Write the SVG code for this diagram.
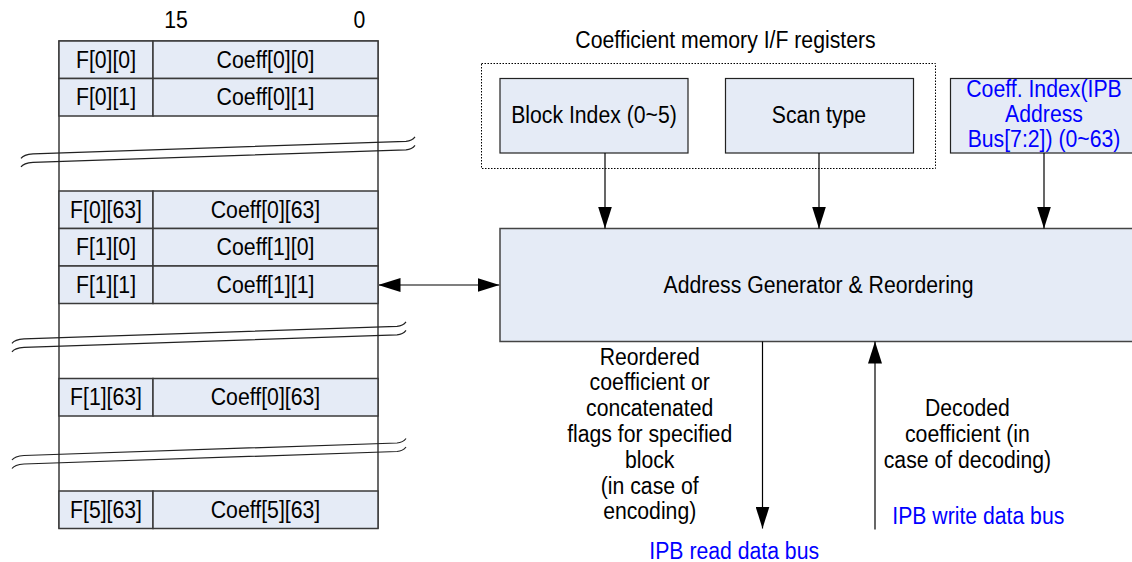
<svg xmlns="http://www.w3.org/2000/svg" width="1132" height="562" viewBox="0 0 1132 562">
<style>
text{font-family:"Liberation Sans",Arial,sans-serif;font-size:23px;text-anchor:middle;fill:#000}
.blue{fill:#0000FF}
.cell{fill:#E5EBF6;stroke:#3a3a3a;stroke-width:1.5}
.frame{fill:#FFFFFF;stroke:#3a3a3a;stroke-width:1.5}
.reg{fill:#E5EBF6;stroke:#222;stroke-width:1.2}
.main{fill:#E5EBF6;stroke:#444;stroke-width:1.5}
.dot{fill:none;stroke:#000;stroke-width:1;stroke-dasharray:1.5 1.5}
.brk{fill:none;stroke:#222;stroke-width:1.2}
.wire{fill:none;stroke:#000;stroke-width:1.2}
.wire2{fill:none;stroke:#555;stroke-width:1.5}
</style>
<defs>
<marker id="ah" markerUnits="userSpaceOnUse" markerWidth="22" markerHeight="14" viewBox="0 0 22 14" refX="22" refY="7" orient="auto-start-reverse">
<path d="M0,0 L22,7 L0,14 Z" fill="#000"/>
</marker>
<path id="brkline" d="M0,0 C2,-3 5,-4 12,-4.5 L385,-17 C390,-17.3 392,-18.8 394,-21.5"/>
</defs>

<g id="bit-labels">
<text x="176" y="28" textLength="23.6" lengthAdjust="spacingAndGlyphs">15</text>
<text x="359.5" y="28" textLength="11.8" lengthAdjust="spacingAndGlyphs">0</text>
</g>

<g id="memory-table">
<rect class="frame" x="59" y="41" width="319" height="487"/>
<g id="row-0-0">
<rect class="cell" x="59" y="41" width="94" height="37.5"/>
<rect class="cell" x="153" y="41" width="225" height="37.5"/>
<text x="106" y="67.5" textLength="60.1" lengthAdjust="spacingAndGlyphs">F[0][0]</text>
<text x="265.5" y="67.5" textLength="97.8" lengthAdjust="spacingAndGlyphs">Coeff[0][0]</text>
</g>
<g id="row-0-1">
<rect class="cell" x="59" y="78.5" width="94" height="37.5"/>
<rect class="cell" x="153" y="78.5" width="225" height="37.5"/>
<text x="106" y="105" textLength="60.1" lengthAdjust="spacingAndGlyphs">F[0][1]</text>
<text x="265.5" y="105" textLength="97.8" lengthAdjust="spacingAndGlyphs">Coeff[0][1]</text>
</g>
<g id="row-0-63">
<rect class="cell" x="59" y="191" width="94" height="37.5"/>
<rect class="cell" x="153" y="191" width="225" height="37.5"/>
<text x="106" y="217.5" textLength="71.9" lengthAdjust="spacingAndGlyphs">F[0][63]</text>
<text x="265.5" y="217.5" textLength="109.6" lengthAdjust="spacingAndGlyphs">Coeff[0][63]</text>
</g>
<g id="row-1-0">
<rect class="cell" x="59" y="228.5" width="94" height="37.5"/>
<rect class="cell" x="153" y="228.5" width="225" height="37.5"/>
<text x="106" y="255" textLength="60.1" lengthAdjust="spacingAndGlyphs">F[1][0]</text>
<text x="265.5" y="255" textLength="97.8" lengthAdjust="spacingAndGlyphs">Coeff[1][0]</text>
</g>
<g id="row-1-1">
<rect class="cell" x="59" y="266" width="94" height="37.5"/>
<rect class="cell" x="153" y="266" width="225" height="37.5"/>
<text x="106" y="292.5" textLength="60.1" lengthAdjust="spacingAndGlyphs">F[1][1]</text>
<text x="265.5" y="292.5" textLength="97.8" lengthAdjust="spacingAndGlyphs">Coeff[1][1]</text>
</g>
<g id="row-1-63">
<rect class="cell" x="59" y="378.5" width="94" height="37.5"/>
<rect class="cell" x="153" y="378.5" width="225" height="37.5"/>
<text x="106" y="405" textLength="71.9" lengthAdjust="spacingAndGlyphs">F[1][63]</text>
<text x="265.5" y="405" textLength="109.6" lengthAdjust="spacingAndGlyphs">Coeff[0][63]</text>
</g>
<g id="row-5-63">
<rect class="cell" x="59" y="491" width="94" height="37.5"/>
<rect class="cell" x="153" y="491" width="225" height="37.5"/>
<text x="106" y="517.5" textLength="71.9" lengthAdjust="spacingAndGlyphs">F[5][63]</text>
<text x="265.5" y="517.5" textLength="109.6" lengthAdjust="spacingAndGlyphs">Coeff[5][63]</text>
</g>
</g>

<g id="breaks" class="brk">
<use href="#brkline" transform="translate(21,158.3)"/>
<use href="#brkline" transform="translate(21,166.8)"/>
<use href="#brkline" transform="translate(12,343.3)"/>
<use href="#brkline" transform="translate(12,351.8)"/>
<use href="#brkline" transform="translate(12,460)"/>
<use href="#brkline" transform="translate(12,468.5)"/>
</g>

<g id="register-group">
<text x="725.5" y="48" textLength="300.4" lengthAdjust="spacingAndGlyphs">Coefficient memory I/F registers</text>
<rect class="dot" x="481.5" y="63.5" width="454" height="105"/>
</g>

<g id="block-index">
<rect class="reg" x="500" y="78.5" width="188" height="74.5"/>
<text x="594" y="123" textLength="165.6" lengthAdjust="spacingAndGlyphs">Block Index (0~5)</text>
</g>

<g id="scan-type">
<rect class="reg" x="725.5" y="78.5" width="188" height="74.5"/>
<text x="819" y="123" textLength="94.3" lengthAdjust="spacingAndGlyphs">Scan type</text>
</g>

<g id="coeff-index">
<rect class="reg" x="950.5" y="78.5" width="190" height="74.5"/>
<text class="blue" x="1044" y="97" textLength="155.5" lengthAdjust="spacingAndGlyphs">Coeff. Index(IPB</text>
<text class="blue" x="1044" y="121.5" textLength="77.8" lengthAdjust="spacingAndGlyphs">Address</text>
<text class="blue" x="1044" y="146.5" textLength="152.6" lengthAdjust="spacingAndGlyphs">Bus[7:2]) (0~63)</text>
</g>

<g id="addr-gen">
<rect class="main" x="500" y="228.5" width="640" height="113"/>
<text x="818.5" y="293" textLength="309.9" lengthAdjust="spacingAndGlyphs">Address Generator &amp; Reordering</text>
</g>

<g id="connectors">
<line class="wire" x1="605" y1="153" x2="605" y2="228.5" marker-end="url(#ah)"/>
<line class="wire" x1="819" y1="153" x2="819" y2="228.5" marker-end="url(#ah)"/>
<line class="wire" x1="1044" y1="153" x2="1044" y2="228.5" marker-end="url(#ah)"/>
<line class="wire2" x1="378.5" y1="285" x2="499.5" y2="285" marker-start="url(#ah)" marker-end="url(#ah)"/>
<line class="wire" x1="762.5" y1="341.5" x2="762.5" y2="528.5" marker-end="url(#ah)"/>
<line class="wire" x1="875" y1="529.5" x2="875" y2="341.5" marker-end="url(#ah)"/>
</g>

<g id="read-label">
<text x="649.7" y="364.5" textLength="100.1" lengthAdjust="spacingAndGlyphs">Reordered</text>
<text x="649.7" y="390.3" textLength="120.2" lengthAdjust="spacingAndGlyphs">coefficient or</text>
<text x="649.7" y="416.1" textLength="127.2" lengthAdjust="spacingAndGlyphs">concatenated</text>
<text x="649.7" y="441.9" textLength="165" lengthAdjust="spacingAndGlyphs">flags for specified</text>
<text x="649.7" y="467.7" textLength="49.5" lengthAdjust="spacingAndGlyphs">block</text>
<text x="649.7" y="493.5" textLength="97.8" lengthAdjust="spacingAndGlyphs">(in case of</text>
<text x="649.7" y="519.3" textLength="93.1" lengthAdjust="spacingAndGlyphs">encoding)</text>
<text class="blue" x="734.2" y="558.5" textLength="169.7" lengthAdjust="spacingAndGlyphs">IPB read data bus</text>
</g>

<g id="write-label">
<text x="967.4" y="416" textLength="84.8" lengthAdjust="spacingAndGlyphs">Decoded</text>
<text x="967.4" y="441.8" textLength="124.9" lengthAdjust="spacingAndGlyphs">coefficient (in</text>
<text x="967.4" y="467.6" textLength="167.3" lengthAdjust="spacingAndGlyphs">case of decoding)</text>
<text class="blue" x="978.3" y="524" textLength="172" lengthAdjust="spacingAndGlyphs">IPB write data bus</text>
</g>
</svg>
